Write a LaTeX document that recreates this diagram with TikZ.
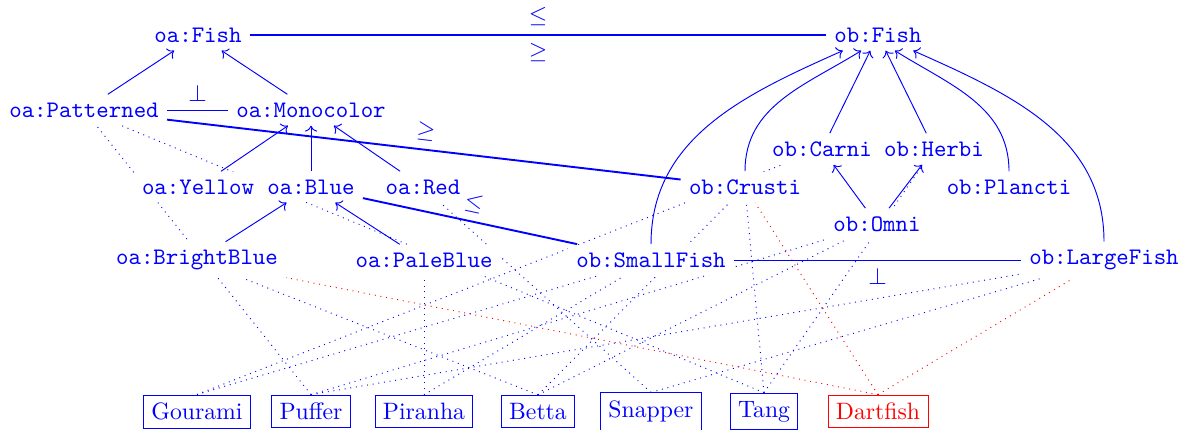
\documentclass[tikz,border=0pt]{standalone}
\usetikzlibrary{arrows.meta}
\pgfdeclarelayer{background}
\pgfsetlayers{background,main}
\begin{document}
\begin{tikzpicture}[x=0.4219pt,y=0.4219pt,
  cls/.style={font=\ttfamily, text=blue, fill=white},
  fishbox/.style={draw=blue, text=blue, fill=white, line width=0.4pt},
  redbox/.style={draw=red, text=red, fill=white, line width=0.4pt},
  isa/.style={->, blue, line width=0.4pt},
  inst/.style={blue, dotted, line width=0.4pt},
  redinst/.style={red, dotted, line width=0.4pt},
  corr/.style={blue, thick},
  disj/.style={blue, line width=0.4pt}]
\useasboundingbox (0,0) rectangle (1197,430);
% ontology a
\node[cls] (oafish) at (198,395) {oa:Fish};
\node[cls] (patterned) at (84,320) {oa:Patterned};
\node[cls] (monocolor) at (311,320) {oa:Monocolor};
\node[cls] (yellow) at (198,243) {oa:Yellow};
\node[cls] (blue) at (311,243) {oa:Blue};
\node[cls] (red) at (423,243) {oa:Red};
\node[cls] (brightblue) at (197,170) {oa:BrightBlue};
\node[cls] (paleblue) at (424,170) {oa:PaleBlue};
% ontology b
\node[cls] (obfish) at (878,395) {ob:Fish};
\node[cls] (carni) at (822,281) {ob:Carni};
\node[cls] (herbi) at (934,281) {ob:Herbi};
\node[cls] (crusti) at (745,243) {ob:Crusti};
\node[cls] (plancti) at (1009,243) {ob:Plancti};
\node[cls] (omni) at (877,206) {ob:Omni};
\node[cls] (smallfish) at (651,170) {ob:SmallFish};
\node[cls] (largefish) at (1104,170) {ob:LargeFish};
% individuals
\node[fishbox] (gourami) at (197,18.5) {Gourami};
\node[fishbox] (puffer) at (311,18.5) {Puffer};
\node[fishbox] (piranha) at (424,18.5) {Piranha};
\node[fishbox] (betta) at (538,18.5) {Betta};
\node[fishbox] (snapper) at (651,18.5) {Snapper};
\node[fishbox] (tang) at (764,18.5) {Tang};
\node[redbox] (dartfish) at (878,18.5) {Dartfish};
% membership (behind the nodes)
\begin{pgfonlayer}{background}
\draw[inst] (gourami.north) -- (carni);
\draw[inst] (gourami.north) -- (smallfish);
\draw[inst] (puffer.north) -- (patterned);
\draw[inst] (puffer.north) -- (omni);
\draw[inst] (puffer.north) -- (largefish);
\draw[inst] (piranha.north) -- (paleblue);
\draw[inst] (piranha.north) -- (smallfish);
\draw[inst] (betta.north) -- (brightblue);
\draw[inst] (betta.north) -- (omni);
\draw[inst] (betta.north) -- (crusti);
\draw[inst] (snapper.north) -- (red);
\draw[inst] (snapper.north) -- (largefish);
\draw[inst] (tang.north) -- (patterned);
\draw[inst] (tang.north) -- (crusti);
\draw[inst] (tang.north) -- (herbi);
\draw[redinst] (dartfish.north) -- (brightblue);
\draw[redinst] (dartfish.north) -- (crusti);
\draw[redinst] (dartfish.north) -- (largefish);
\end{pgfonlayer}
% subsumption a
\draw[isa] (patterned) -- (oafish);
\draw[isa] (monocolor) -- (oafish);
\draw[isa] (yellow) -- (monocolor);
\draw[isa] (blue) -- (monocolor);
\draw[isa] (red) -- (monocolor);
\draw[isa] (brightblue) -- (blue);
\draw[isa] (paleblue) -- (blue);
% subsumption b
\draw[isa] (carni) -- (obfish);
\draw[isa] (herbi) -- (obfish);
\draw[isa] (omni) -- (carni);
\draw[isa] (omni) -- (herbi);
\draw[isa] (smallfish) to[out=90,in=204] (obfish.204);
\draw[isa] (crusti) to[out=90,in=212] (obfish.223);
\draw[isa] (plancti) to[out=90,in=328] (obfish.317);
\draw[isa] (largefish) to[out=90,in=336] (obfish.336);
% correspondences
\draw[corr] (oafish) -- node[above]{$\leq$} node[below]{$\geq$} (obfish);
\draw[corr] (patterned) -- node[above,sloped]{$\geq$} (crusti);
\draw[corr] (blue) -- node[above,sloped]{$\leq$} (smallfish);
\draw[disj] (patterned) -- node[above]{$\perp$} (monocolor);
\draw[disj] (smallfish) -- node[below]{$\perp$} (largefish);
\end{tikzpicture}
\end{document}
